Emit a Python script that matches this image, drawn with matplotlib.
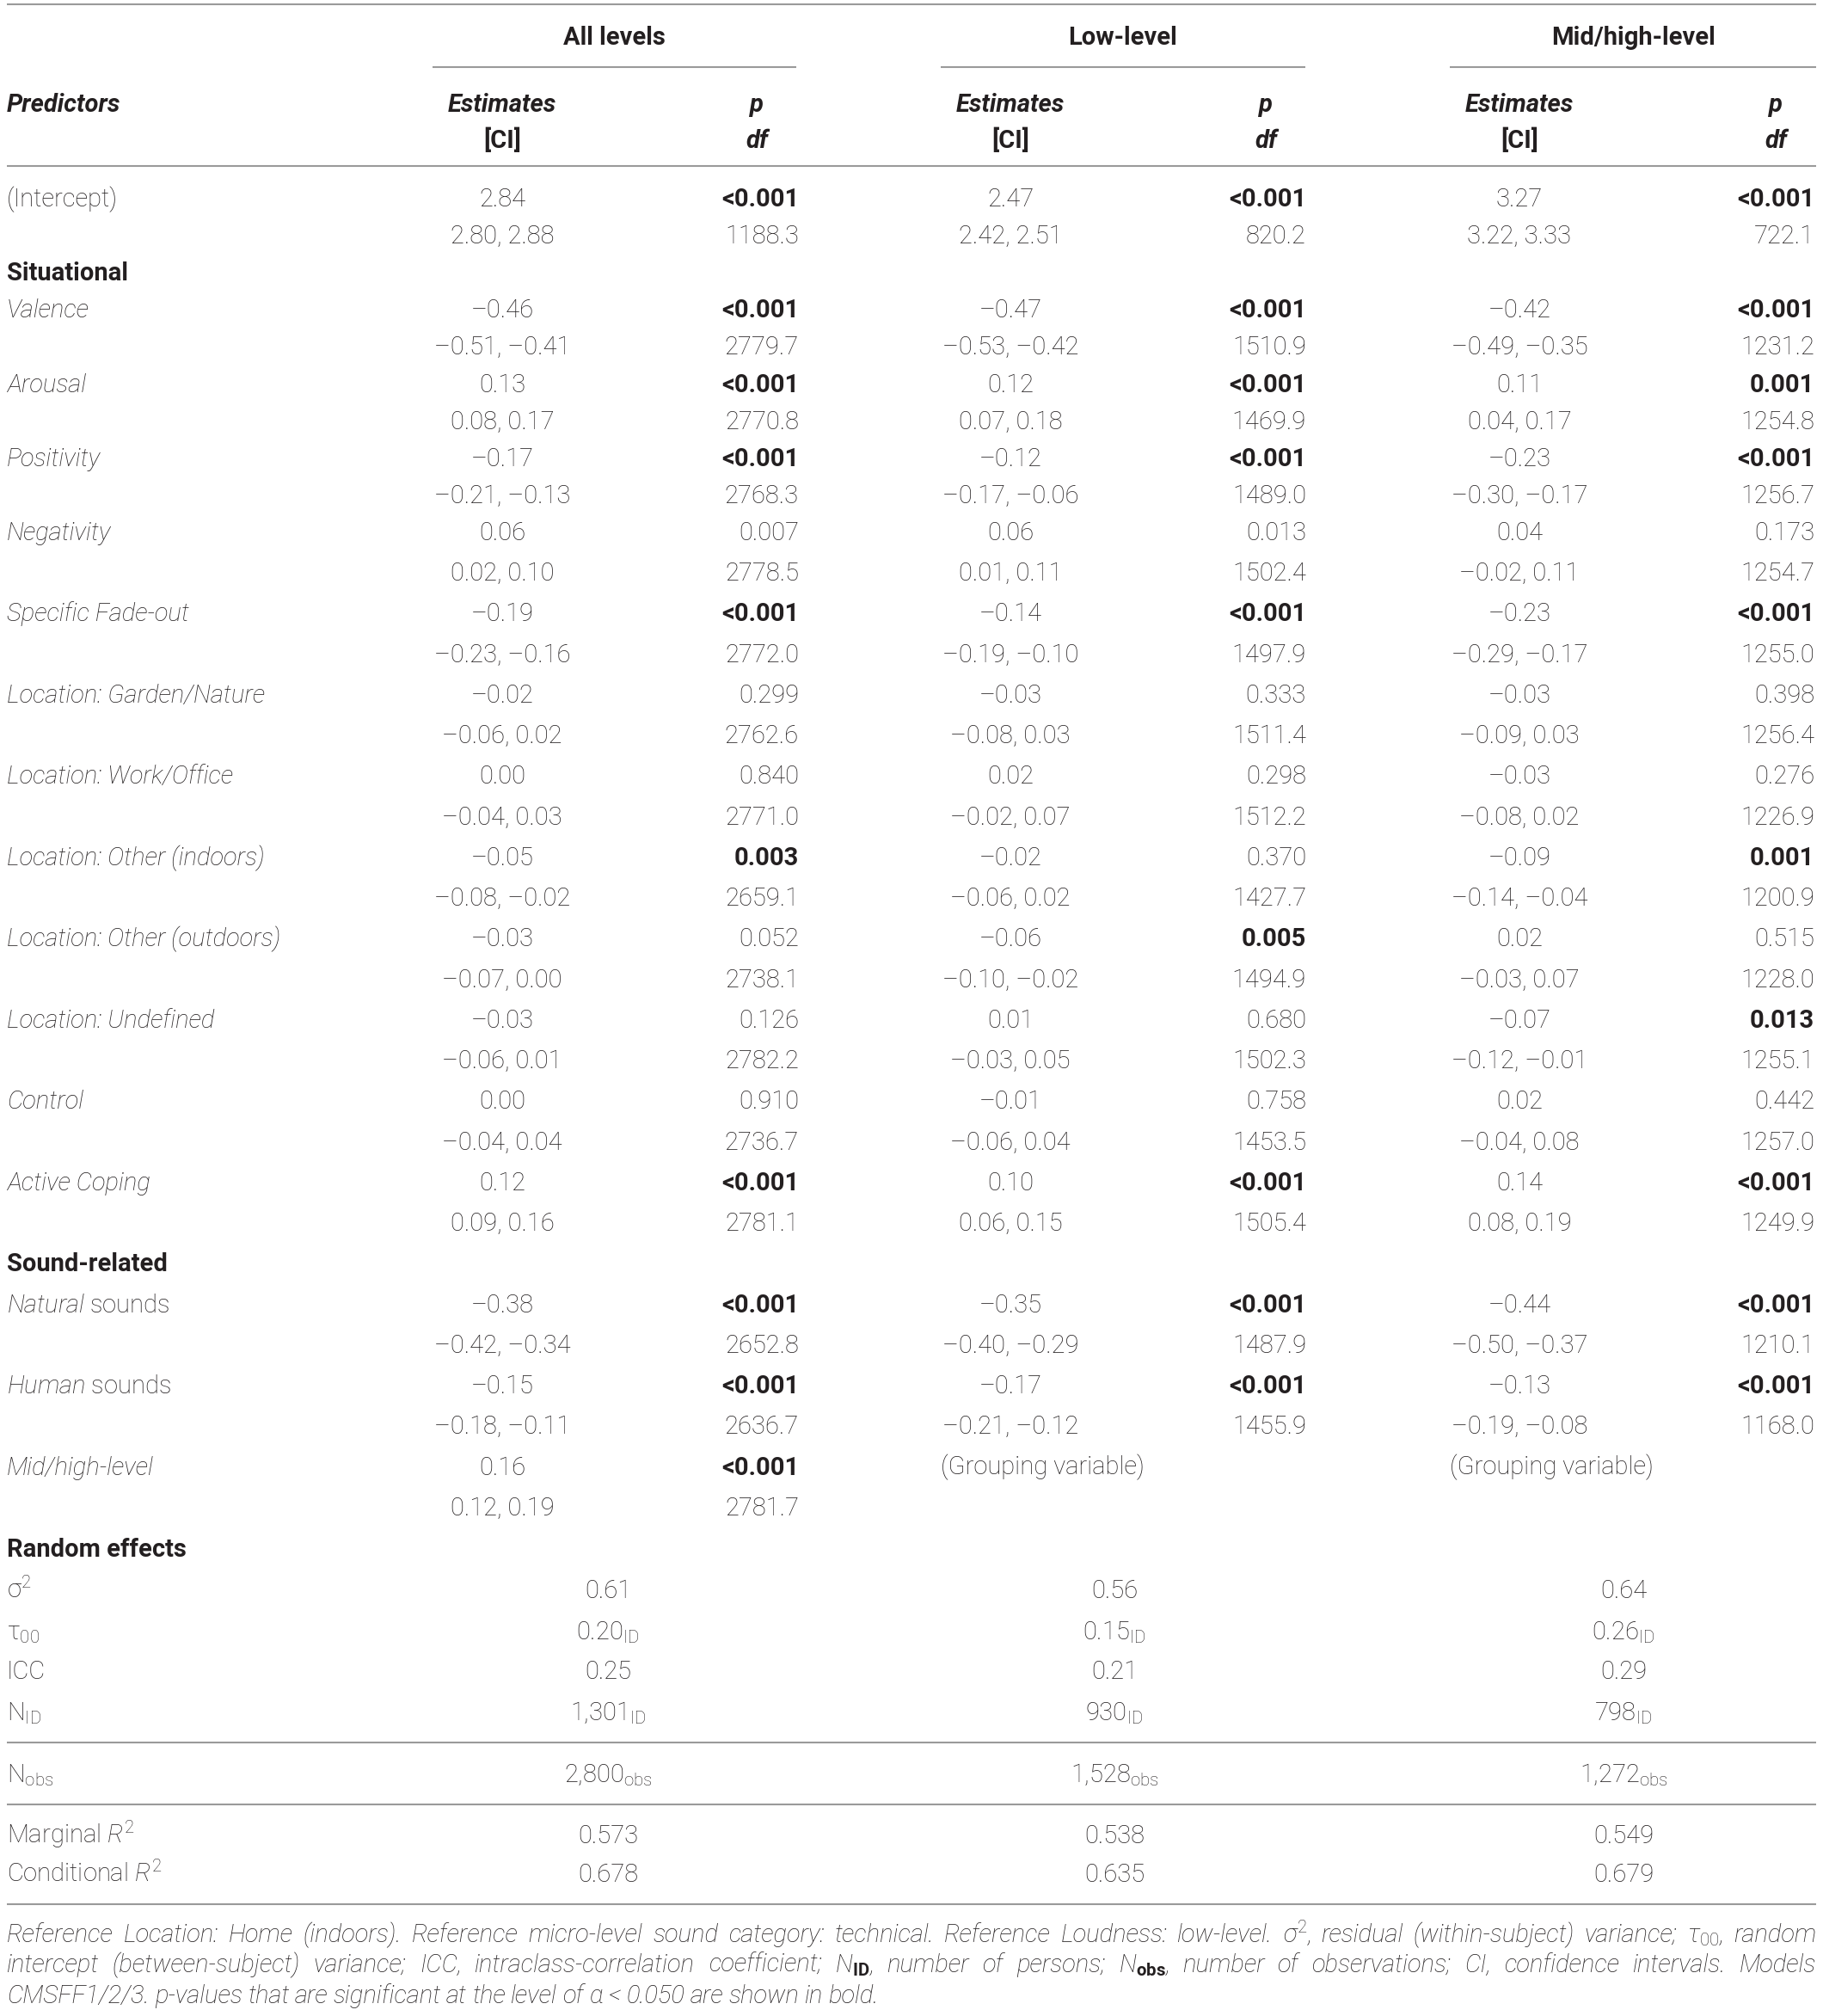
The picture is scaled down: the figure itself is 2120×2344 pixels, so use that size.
import matplotlib
matplotlib.use("Agg")
import matplotlib.pyplot as plt

plt.rcParams['font.family'] = ['Roboto', 'DejaVu Sans']
plt.rcParams['mathtext.fontset'] = 'custom'
plt.rcParams['mathtext.rm'] = 'Roboto:light'
plt.rcParams['mathtext.it'] = 'Roboto:italic:light'
plt.rcParams['mathtext.bf'] = 'Roboto:bold'

# ---- data ----
models = ['All levels', 'Low-level', 'Mid/high-level']

predictors = ['(Intercept)', 'Valence', 'Arousal', 'Positivity', 'Negativity',
              'Specific Fade-out', 'Location: Garden/Nature', 'Location: Work/Office',
              'Location: Other (indoors)', 'Location: Other (outdoors)',
              'Location: Undefined', 'Control', 'Active Coping',
              r'$\mathit{Natural}$ sounds', r'$\mathit{Human}$ sounds', 'Mid/high-level']
# section header shown before predictor index
sections = {1: 'Situational', 13: 'Sound-related'}

est_all = ['2.84', '–0.46', '0.13', '–0.17', '0.06', '–0.19', '–0.02', '0.00',
           '–0.05', '–0.03', '–0.03', '0.00', '0.12', '–0.38', '–0.15', '0.16']
ci_all = ['2.80, 2.88', '–0.51, –0.41', '0.08, 0.17', '–0.21, –0.13', '0.02, 0.10',
          '–0.23, –0.16', '–0.06, 0.02', '–0.04, 0.03', '–0.08, –0.02', '–0.07, 0.00',
          '–0.06, 0.01', '–0.04, 0.04', '0.09, 0.16', '–0.42, –0.34', '–0.18, –0.11',
          '0.12, 0.19']
p_all = ['<0.001', '<0.001', '<0.001', '<0.001', '0.007', '<0.001', '0.299', '0.840',
         '0.003', '0.052', '0.126', '0.910', '<0.001', '<0.001', '<0.001', '<0.001']
df_all = ['1188.3', '2779.7', '2770.8', '2768.3', '2778.5', '2772.0', '2762.6', '2771.0',
          '2659.1', '2738.1', '2782.2', '2736.7', '2781.1', '2652.8', '2636.7', '2781.7']
bold_all = [1, 1, 1, 1, 0, 1, 0, 0, 1, 0, 0, 0, 1, 1, 1, 1]

est_low = ['2.47', '–0.47', '0.12', '–0.12', '0.06', '–0.14', '–0.03', '0.02',
           '–0.02', '–0.06', '0.01', '–0.01', '0.10', '–0.35', '–0.17']
ci_low = ['2.42, 2.51', '–0.53, –0.42', '0.07, 0.18', '–0.17, –0.06', '0.01, 0.11',
          '–0.19, –0.10', '–0.08, 0.03', '–0.02, 0.07', '–0.06, 0.02', '–0.10, –0.02',
          '–0.03, 0.05', '–0.06, 0.04', '0.06, 0.15', '–0.40, –0.29', '–0.21, –0.12']
p_low = ['<0.001', '<0.001', '<0.001', '<0.001', '0.013', '<0.001', '0.333', '0.298',
         '0.370', '0.005', '0.680', '0.758', '<0.001', '<0.001', '<0.001']
df_low = ['820.2', '1510.9', '1469.9', '1489.0', '1502.4', '1497.9', '1511.4', '1512.2',
          '1427.7', '1494.9', '1502.3', '1453.5', '1505.4', '1487.9', '1455.9']
bold_low = [1, 1, 1, 1, 0, 1, 0, 0, 0, 1, 0, 0, 1, 1, 1]

est_mid = ['3.27', '–0.42', '0.11', '–0.23', '0.04', '–0.23', '–0.03', '–0.03',
           '–0.09', '0.02', '–0.07', '0.02', '0.14', '–0.44', '–0.13']
ci_mid = ['3.22, 3.33', '–0.49, –0.35', '0.04, 0.17', '–0.30, –0.17', '–0.02, 0.11',
          '–0.29, –0.17', '–0.09, 0.03', '–0.08, 0.02', '–0.14, –0.04', '–0.03, 0.07',
          '–0.12, –0.01', '–0.04, 0.08', '0.08, 0.19', '–0.50, –0.37', '–0.19, –0.08']
p_mid = ['<0.001', '<0.001', '0.001', '<0.001', '0.173', '<0.001', '0.398', '0.276',
         '0.001', '0.515', '0.013', '0.442', '<0.001', '<0.001', '<0.001']
df_mid = ['722.1', '1231.2', '1254.8', '1256.7', '1254.7', '1255.0', '1256.4', '1226.9',
          '1200.9', '1228.0', '1255.1', '1257.0', '1249.9', '1210.1', '1168.0']
bold_mid = [1, 1, 1, 1, 0, 1, 0, 0, 1, 0, 1, 0, 1, 1, 1]

grouping_note = '(Grouping variable)'

random_labels = ['σ$^2$', 'τ$_{00}$', 'ICC', 'N$_\\mathrm{ID}$']
sigma2 = ['0.61', '0.56', '0.64']
tau00 = ['0.20', '0.15', '0.26']
icc = ['0.25', '0.21', '0.29']
n_id = ['1,301', '930', '798']
n_obs = ['2,800', '1,528', '1,272']
marginal_r2 = ['0.573', '0.538', '0.549']
conditional_r2 = ['0.678', '0.635', '0.679']

footnote = [
    "Reference Location: Home (indoors). Reference micro-level sound category: technical. "
    "Reference Loudness: low-level. $\\sigma^2$, residual (within-subject) variance; "
    "$\\tau_{00}$, random",
    "intercept (between-subject) variance; ICC, intraclass-correlation coefficient; "
    "N$_\\mathbf{ID}$, number of persons; N$_\\mathbf{obs}$, number of observations; "
    "CI, confidence intervals. Models",
    "CMSFF1/2/3. p-values that are significant at the level of $\\alpha$ < 0.050 "
    "are shown in bold.",
]

# ---- layout ----
W, H = 2120, 2344
FS = 21
FS_NOTE = 21
INK = '#231f20'
RULE = '#9a9a9a'
LW = 1.5
X0, X1 = 8, 2112
est_x = [584, 1175, 1767]
p_x = [929, 1519, 2110]
phead_x = [880, 1472, 2065]
group_x = [714, 1306, 1899]
group_span = [(503, 926), (1094, 1518), (1686, 2112)]
rand_x = [707, 1296, 1888]
BASE = 10  # text centre -> baseline


def row_y(i):
    # measured line pitch changes after the Negativity row
    return 230 + 43.1 * min(i, 9) + 47.25 * max(i - 9, 0)


fig = plt.figure(figsize=(W / 100, H / 100), dpi=100)
ax = fig.add_axes([0, 0, 1, 1])
ax.set_xlim(0, W)
ax.set_ylim(H, 0)
ax.axis('off')


def put(x, y, s, ha='left', weight='light', style='normal', size=FS):
    return ax.text(x, y + BASE, s, ha=ha, va='baseline', fontsize=size,
                   fontweight=weight, fontstyle=style, color=INK)


def rule(y, x0=X0, x1=X1):
    ax.plot([x0, x1], [y, y], color=RULE, lw=LW, solid_capstyle='butt')


# header
rule(5)
for g in range(3):
    put(group_x[g], 42, models[g], ha='center', weight='bold')
    rule(78, *group_span[g])
    put(est_x[g], 120, 'Estimates', ha='center', weight='bold', style='italic')
    put(est_x[g], 162, '[CI]', ha='center', weight='bold')
    put(phead_x[g], 120, 'p', ha='center', weight='bold', style='italic')
    put(phead_x[g], 162, 'df', ha='center', weight='bold', style='italic')
put(X0, 120, 'Predictors', weight='bold', style='italic')
rule(193)

# fixed effects
cols = [(est_all, ci_all, p_all, df_all, bold_all),
        (est_low, ci_low, p_low, df_low, bold_low),
        (est_mid, ci_mid, p_mid, df_mid, bold_mid)]
line = 0
for k, name in enumerate(predictors):
    if k in sections:
        put(X0, row_y(line), sections[k], weight='bold')
        line += 1
    y1, y2 = row_y(line), row_y(line + 1)
    put(X0, y1, name, style='normal' if k == 0 or '$' in name else 'italic')
    for g, (est, ci, pv, dfv, bold) in enumerate(cols):
        if k < len(est):
            put(est_x[g], y1, est[k], ha='center')
            put(est_x[g], y2, ci[k], ha='center')
            put(p_x[g], y1, pv[k], ha='right', weight='bold' if bold[k] else 'light')
            put(p_x[g], y2, dfv[k], ha='right')
        else:
            put(group_span[g][0], y1, grouping_note)
    line += 2

# random effects
ry = [1800, 1848, 1896, 1942, 1990]
put(X0, ry[0], 'Random effects', weight='bold')
rand_vals = [sigma2, [v + '$_\\mathrm{ID}$' for v in tau00], icc,
             [v + '$_\\mathrm{ID}$' for v in n_id]]
for i, lab in enumerate(random_labels):
    put(X0, ry[i + 1], lab)
    for g in range(3):
        put(rand_x[g], ry[i + 1], rand_vals[i][g], ha='center')
rule(2026)
put(X0, 2062, 'N$_\\mathrm{obs}$')
for g in range(3):
    put(rand_x[g], 2062, n_obs[g] + '$_\\mathrm{obs}$', ha='center')
rule(2098)
for y, lab, vals in [(2133, 'Marginal $R^2$', marginal_r2),
                     (2178, 'Conditional $R^2$', conditional_r2)]:
    put(X0, y, lab)
    for g in range(3):
        put(rand_x[g], y, vals[g], ha='center')
rule(2214)

# footnote, justified
renderer = fig.canvas.get_renderer()
note_y = [2249, 2284, 2320]
for li, txt in enumerate(footnote):
    words = txt.split(' ')
    # keep math groups together
    merged = []
    for w in words:
        if merged and merged[-1].count('$') % 2 == 1:
            merged[-1] += ' ' + w
        else:
            merged.append(w)
    objs = [ax.text(0, note_y[li] + 9, w, ha='left', va='baseline', fontsize=FS_NOTE,
                    fontweight='light', fontstyle='italic', color=INK) for w in merged]
    widths = [o.get_window_extent(renderer).width for o in objs]
    if li < len(footnote) - 1:
        gap = (X1 - X0 - sum(widths)) / (len(objs) - 1)
    else:
        gap = FS_NOTE * 0.3
    x = X0
    for o, w in zip(objs, widths):
        o.set_x(x)
        x += w + gap

fig.savefig('out.png', dpi=100, facecolor='white')
